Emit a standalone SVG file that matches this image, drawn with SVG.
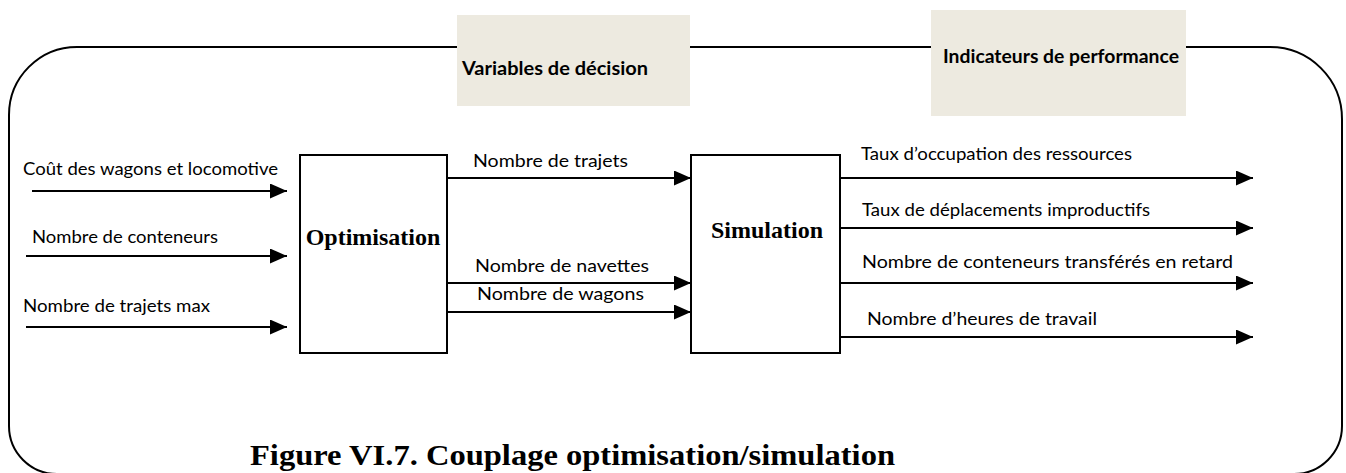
<svg xmlns="http://www.w3.org/2000/svg" width="1346" height="473" viewBox="0 0 1346 473">
<style>
.frame{fill:none;stroke:#000;stroke-width:2}
.box{fill:#fff;stroke:#000;stroke-width:2}
.band{fill:#EDEAE0;stroke:none}
.lbl{font-family:Lato,"Liberation Sans",sans-serif;font-size:17px;fill:#000}
.hdr{font-family:Lato,"Liberation Sans",sans-serif;font-size:18px;font-weight:bold;fill:#000}
.ttl{font-family:"Liberation Serif","Times New Roman",serif;font-weight:bold;fill:#000}
.conn line{stroke:#000;stroke-width:2;marker-end:url(#ah)}
</style>
<defs>
<marker id="ah" markerUnits="userSpaceOnUse" markerWidth="18" markerHeight="16" refX="17" refY="7.5" orient="auto">
<polygon points="0,0 17,7.5 0,15" fill="#000"/>
</marker>
</defs>
<rect width="1346" height="473" fill="#fff"/>
<g id="frame">
<path class="frame" d="M77,47 H1270 A72,72 0 0 1 1342,119 V426 A48,48 0 0 1 1294,474 H57 A48,48 0 0 1 9,426 V115 A68,68 0 0 1 77,47 Z"/>
</g>
<g id="variables">
<rect class="band" x="457" y="15" width="233" height="91"/>
<text class="hdr" x="462" y="75" textLength="186" lengthAdjust="spacingAndGlyphs">Variables de décision</text>
</g>
<g id="indicateurs">
<rect class="band" x="931" y="10" width="255" height="106"/>
<text class="hdr" x="943" y="63" textLength="236" lengthAdjust="spacingAndGlyphs">Indicateurs de performance</text>
</g>
<g id="optimisation">
<rect class="box" x="300" y="155" width="147" height="198"/>
<text class="ttl" x="373" y="245" font-size="24" text-anchor="middle">Optimisation</text>
</g>
<g id="simulation">
<rect class="box" x="691" y="155" width="149" height="198"/>
<text class="ttl" x="767" y="238" font-size="24" text-anchor="middle">Simulation</text>
</g>
<g id="connectors" class="conn">
<line x1="32" y1="191" x2="287" y2="191"/>
<line x1="26" y1="256" x2="287" y2="256"/>
<line x1="26" y1="327" x2="287" y2="327"/>
<line x1="447" y1="178" x2="691" y2="178"/>
<line x1="447" y1="283" x2="691" y2="283"/>
<line x1="447" y1="312" x2="691" y2="312"/>
<line x1="840" y1="178" x2="1253" y2="178"/>
<line x1="840" y1="228" x2="1253" y2="228"/>
<line x1="840" y1="283" x2="1253" y2="283"/>
<line x1="840" y1="337" x2="1253" y2="337"/>
</g>
<g id="labels">
<text class="lbl" x="23" y="175" textLength="255" lengthAdjust="spacingAndGlyphs">Coût des wagons et locomotive</text>
<text class="lbl" x="32" y="243" textLength="186" lengthAdjust="spacingAndGlyphs">Nombre de conteneurs</text>
<text class="lbl" x="23" y="312" textLength="187" lengthAdjust="spacingAndGlyphs">Nombre de trajets max</text>
<text class="lbl" x="473" y="167" textLength="155" lengthAdjust="spacingAndGlyphs">Nombre de trajets</text>
<text class="lbl" x="475" y="272" textLength="174" lengthAdjust="spacingAndGlyphs">Nombre de navettes</text>
<text class="lbl" x="477" y="300" textLength="167" lengthAdjust="spacingAndGlyphs">Nombre de wagons</text>
<text class="lbl" x="861" y="160" textLength="271" lengthAdjust="spacingAndGlyphs">Taux d’occupation des ressources</text>
<text class="lbl" x="862" y="216" textLength="288" lengthAdjust="spacingAndGlyphs">Taux de déplacements improductifs</text>
<text class="lbl" x="862" y="268" textLength="371" lengthAdjust="spacingAndGlyphs">Nombre de conteneurs transférés en retard</text>
<text class="lbl" x="867" y="325" textLength="230" lengthAdjust="spacingAndGlyphs">Nombre d’heures de travail</text>
</g>
<g id="caption">
<text class="ttl" x="250" y="465" font-size="29" textLength="645" lengthAdjust="spacingAndGlyphs">Figure VI.7. Couplage optimisation/simulation</text>
</g>
</svg>
